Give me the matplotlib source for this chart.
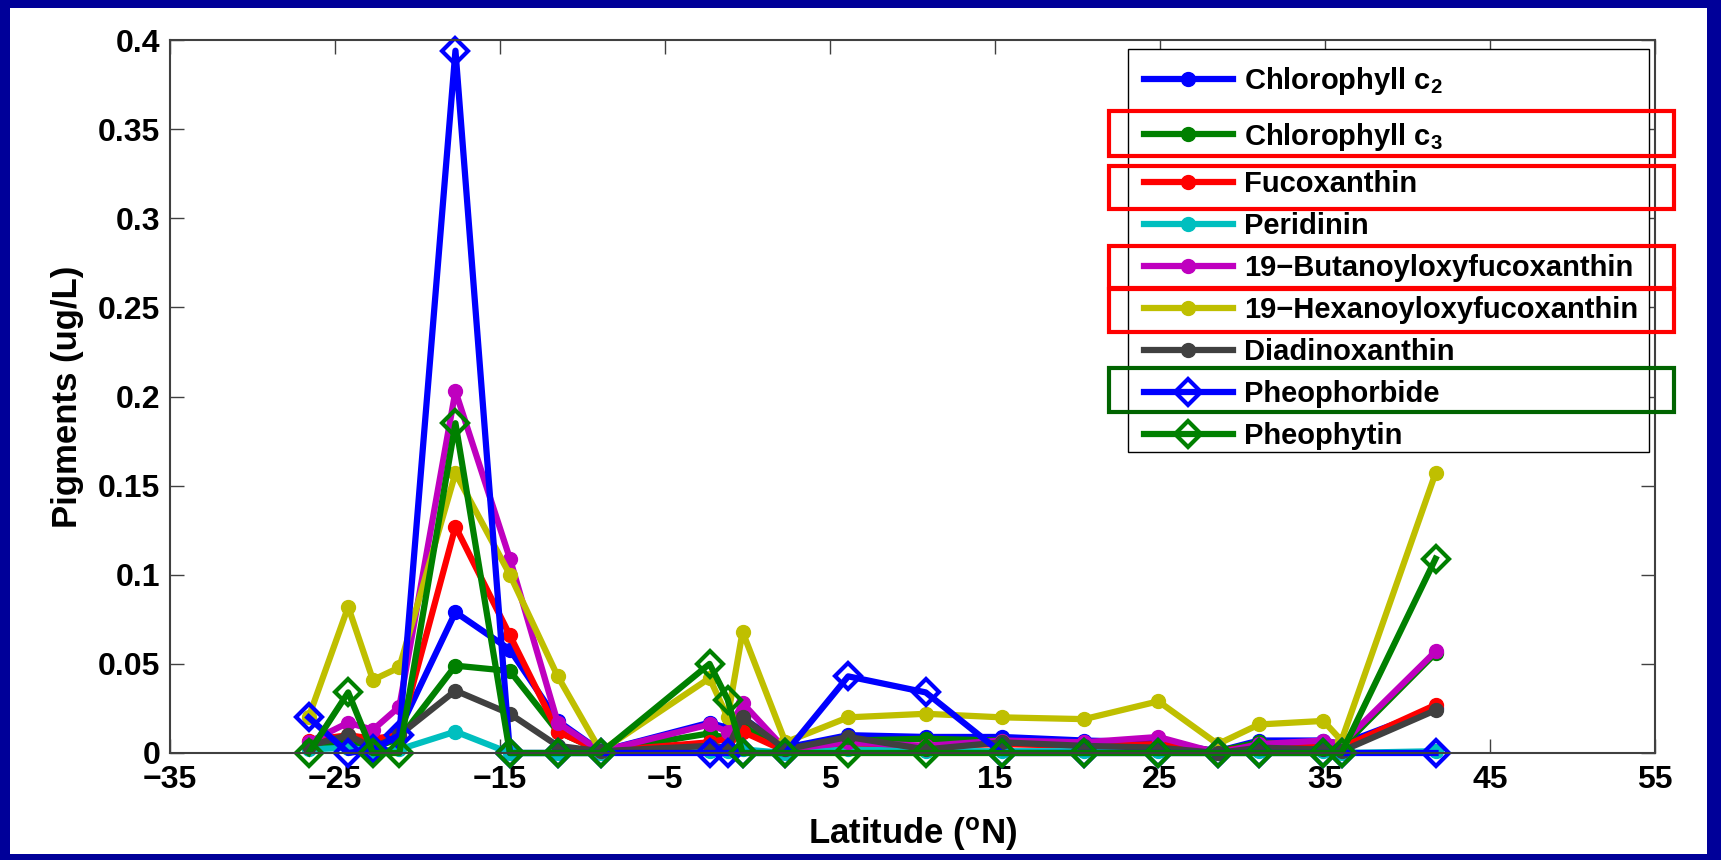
import matplotlib
matplotlib.use("Agg")
import matplotlib.pyplot as plt
from matplotlib.patches import Rectangle

# sampling latitudes (deg N)
lat = [-26.6, -24.2, -22.7, -21.1, -17.7, -14.4, -11.5, -8.9, -2.3, -1.2, -0.3,
       2.3, 6.1, 10.8, 15.4, 20.4, 24.9, 28.5, 31.0, 34.9, 36.0, 41.7]

# pigment concentrations (ug/L)
chl_c2 = [0.004, 0.008, 0.005, 0.013, 0.079, 0.058, 0.018, 0.001, 0.017, 0.014, 0.020,
          0.003, 0.010, 0.009, 0.009, 0.007, 0.006, 0.001, 0.007, 0.007, 0.005, 0.025]
chl_c3 = [0.003, 0.006, 0.003, 0.008, 0.049, 0.046, 0.012, 0.001, 0.011, 0.008, 0.015,
          0.002, 0.007, 0.008, 0.007, 0.005, 0.004, 0.001, 0.006, 0.004, 0.003, 0.056]
fuco = [0.007, 0.010, 0.008, 0.010, 0.127, 0.066, 0.012, 0.001, 0.006, 0.008, 0.012,
        0.001, 0.004, 0.004, 0.005, 0.004, 0.005, 0.001, 0.004, 0.005, 0.003, 0.027]
peri = [0.002, 0.003, 0.001, 0.002, 0.012, 0.000, 0.000, 0.000, 0.001, 0.001, 0.002,
        0.000, 0.002, 0.001, 0.001, 0.001, 0.001, 0.000, 0.001, 0.001, 0.000, 0.001]
but_fuco = [0.006, 0.017, 0.013, 0.026, 0.203, 0.109, 0.017, 0.001, 0.016, 0.012, 0.028,
            0.002, 0.006, 0.004, 0.007, 0.006, 0.009, 0.000, 0.005, 0.007, 0.005, 0.057]
hex_fuco = [0.020, 0.082, 0.041, 0.048, 0.157, 0.100, 0.043, 0.001, 0.042, 0.020, 0.068,
            0.006, 0.020, 0.022, 0.020, 0.019, 0.029, 0.005, 0.016, 0.018, 0.007, 0.157]
diadino = [0.004, 0.010, 0.003, 0.010, 0.035, 0.022, 0.004, 0.001, 0.004, 0.003, 0.020,
           0.002, 0.009, 0.002, 0.006, 0.004, 0.003, 0.000, 0.003, 0.002, 0.001, 0.024]
pheophorbide = [0.020, 0.000, 0.002, 0.010, 0.394, 0.000, 0.000, 0.000, 0.000, 0.000, 0.000,
                0.000, 0.043, 0.034, 0.000, 0.000, 0.000, 0.000, 0.000, 0.000, 0.000, 0.000]
pheophytin = [0.000, 0.034, 0.000, 0.000, 0.185, 0.000, 0.000, 0.000, 0.050, 0.030, 0.000,
              0.000, 0.000, 0.000, 0.000, 0.000, 0.000, 0.000, 0.000, 0.000, 0.000, 0.109]

xticks = [-35, -25, -15, -5, 5, 15, 25, 35, 45, 55]
yticks = [0, 0.05, 0.1, 0.15, 0.2, 0.25, 0.3, 0.35, 0.4]
ytick_labels = ["0", "0.05", "0.1", "0.15", "0.2", "0.25", "0.3", "0.35", "0.4"]

plt.rcParams["font.family"] = ["Liberation Sans", "DejaVu Sans"]
plt.rcParams["font.weight"] = "bold"
plt.rcParams["mathtext.fontset"] = "custom"
plt.rcParams["mathtext.rm"] = "Liberation Sans:bold"
plt.rcParams["mathtext.bf"] = "Liberation Sans:bold"
plt.rcParams["mathtext.default"] = "bf"

W, H = 1721, 860
fig = plt.figure(figsize=(W / 100, H / 100), dpi=100)
fig.patch.set_facecolor("#000099")
fig.add_artist(Rectangle((10 / W, 6 / H), 1697 / W, 846 / H, transform=fig.transFigure,
                         facecolor="white", edgecolor="none", zorder=-10))

ax = fig.add_axes([170 / W, 1 - 753 / H, 1485 / W, 713 / H])

series = [
    (chl_c2, "Chlorophyll c$_2$", (0, 0, 1), "o"),
    (chl_c3, "Chlorophyll c$_3$", (0, 0.5, 0), "o"),
    (fuco, "Fucoxanthin", (1, 0, 0), "o"),
    (peri, "Peridinin", (0, 0.75, 0.75), "o"),
    (but_fuco, "19\u2212Butanoyloxyfucoxanthin", (0.75, 0, 0.75), "o"),
    (hex_fuco, "19\u2212Hexanoyloxyfucoxanthin", (0.75, 0.75, 0), "o"),
    (diadino, "Diadinoxanthin", (0.25, 0.25, 0.25), "o"),
    (pheophorbide, "Pheophorbide", (0, 0, 1), "D"),
    (pheophytin, "Pheophytin", (0, 0.5, 0), "D"),
]

for vals, name, col, mk in series:
    if mk == "o":
        ax.plot(lat, vals, color=col, lw=4.5, marker="o", ms=10, label=name, clip_on=False)
    else:
        ax.plot(lat, vals, color=col, lw=4.5, marker="D", ms=13, mfc="none", mew=3,
                label=name, clip_on=False)

ax.set_xlim(-35, 55)
ax.set_ylim(0, 0.4)
ax.set_xticks(xticks)
ax.set_yticks(yticks)
ax.set_yticklabels(ytick_labels)
ax.tick_params(direction="in", length=10, width=1, labelsize=23, pad=7,
               top=True, right=True, color="#404040")
ax.tick_params(axis="x", pad=9)
for sp in ax.spines.values():
    sp.set_color("#404040")
    sp.set_linewidth(1.5)

ax.set_xlabel("Latitude ($^{o}$N)", fontsize=25, fontweight="bold", labelpad=14)
ax.set_ylabel("Pigments (ug/L)", fontsize=25, fontweight="bold", labelpad=10)

# legend frame drawn separately so it matches the original box
ax.add_patch(Rectangle((1128 / W, 1 - 452 / H), 521 / W, 403 / H,
                       transform=fig.transFigure, facecolor="white",
                       edgecolor="black", lw=1, zorder=4.5, clip_on=False))
leg = ax.legend(loc="upper left", bbox_to_anchor=(1144 / W, 1 - 65 / H),
                bbox_transform=fig.transFigure, borderaxespad=0, frameon=False,
                fontsize=21, handlelength=3.05, handletextpad=0.38,
                labelspacing=0.48, borderpad=0)
leg.set_zorder(5)

# the two subscript rows sit lower in the original legend: add room under them
rows = leg._legend_handle_box.get_children()[0].get_children()
for i, extra in [(0, 12.7), (1, 8.0)]:
    hb = rows[i].get_children()[0]
    hb.ydescent += extra
    hb.height += extra

# highlight boxes over the legend
boxes = [(111, 156, "red"), (166, 209, "red"), (246, 288, "red"),
         (289, 332, "red"), (368, 412, "#006400")]
for top, bot, c in boxes:
    fig.add_artist(Rectangle((1109 / W, 1 - bot / H), 565 / W, (bot - top) / H,
                             transform=fig.transFigure, facecolor="none",
                             edgecolor=c, lw=3, zorder=20))

fig.savefig("out.png", dpi=100, facecolor=fig.get_facecolor())
